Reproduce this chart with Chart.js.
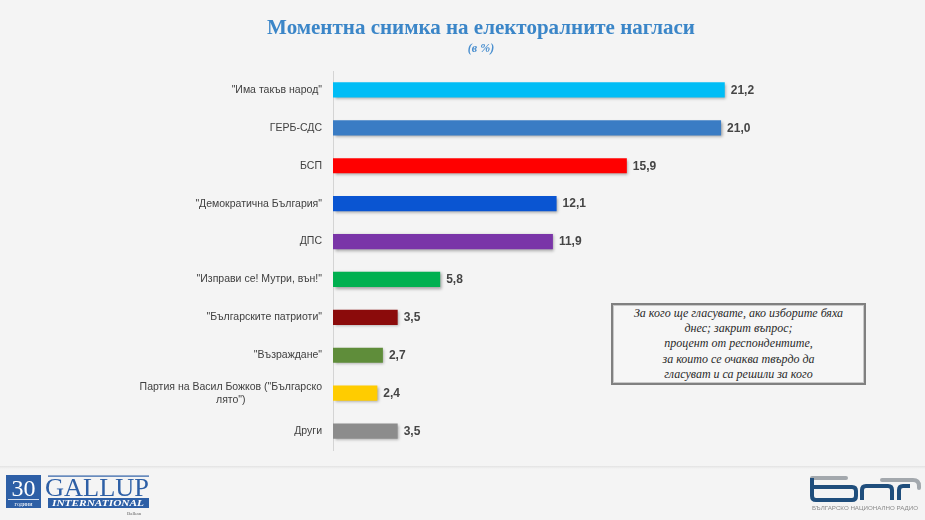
<!DOCTYPE html>
<html><head><meta charset="utf-8">
<script src="https://cdn.jsdelivr.net/npm/chart.js@4.4.0/dist/chart.umd.min.js"></script>
<style>
html,body{margin:0;padding:0;background:#f4f4f4;}
#wrap{position:relative;width:925px;height:520px;overflow:hidden;background:#f4f4f4;}
#c{position:absolute;left:0;top:0;}
.title{position:absolute;left:0;width:962px;text-align:center;top:15px;font:bold 21px "Liberation Serif",serif;color:#3b86c8;white-space:nowrap;}
.sub{position:absolute;left:0;width:962px;text-align:center;top:41px;font:italic bold 12px/14px "Liberation Serif",serif;color:#4a8fcf;}
.note{position:absolute;left:611px;top:303px;width:251px;height:77px;border:2px solid #808080;box-shadow:inset 0 0 0 1px #c8c8c8;background:#f6f6f6;text-align:center;font:italic 12px/15.2px "Liberation Serif",serif;color:#2a2a2a;padding-top:1px;box-sizing:content-box;white-space:nowrap;}
.foot{position:absolute;left:0;top:466px;width:925px;height:3px;background:linear-gradient(#e2e2e2,#ececec,#f4f4f4);}
svg{position:absolute;}
</style>
</head><body>
<div id="wrap">
<canvas id="c" width="925" height="520"></canvas>
<div class="title">Моментна снимка на електоралните нагласи</div>
<div class="sub">(в %)</div>
<div class="note">За кого ще гласувате, ако изборите бяха<br>днес; закрит въпрос;<br>процент от респондентите,<br>за които се очаква твърдо да<br>гласуват и са решили за кого</div>
<div class="foot"></div>
<svg style="left:0;top:465px" width="170" height="55" viewBox="0 0 170 55">
  <rect x="6" y="10" width="35" height="33" fill="#2d5fa6"/>
  <text x="23.5" y="31" font-family="Liberation Serif" font-size="24" fill="#fff" text-anchor="middle">30</text>
  <rect x="8" y="34" width="31" height="0.8" fill="#fff"/>
  <text x="23.5" y="41" font-family="Liberation Serif" font-size="6" fill="#fff" text-anchor="middle">години</text>
  <rect x="48" y="10.5" width="101" height="1.2" fill="#2d5fa6"/>
  <text x="45" y="31" font-family="Liberation Serif" font-size="26" fill="#2d5fa6" textLength="104" lengthAdjust="spacingAndGlyphs">GALLUP</text>
  <rect x="48" y="33" width="101" height="10" fill="#2d5fa6"/>
  <text x="52" y="41" font-family="Liberation Serif" font-style="italic" font-weight="bold" font-size="7.5" fill="#fff" textLength="92" lengthAdjust="spacingAndGlyphs">INTERNATIONAL</text>
  <text x="127" y="49.5" font-family="Liberation Serif" font-size="5" fill="#666">Balkan</text>
</svg>
<svg style="left:800px;top:465px" width="125" height="55" viewBox="0 0 125 55">
  <path d="M12 13 L46 13" stroke="#a3a8ad" stroke-width="4" fill="none" stroke-linecap="round"/>
  <path d="M82 15 L113 15 Q119 15 119 21 L119 23" stroke="#a3a8ad" stroke-width="4" fill="none" stroke-linecap="round"/>
  <path d="M12 13 L12 31 Q12 35 16 35 L52 35 Q56 35 56 31 L56 26 Q56 22 52 22 L12 22" stroke="#1f4e7c" stroke-width="4" fill="none"/>
  <path d="M62 35 L62 25 Q62 21 66 21 L88 21 Q92 21 92 25 L92 35" stroke="#1f4e7c" stroke-width="4" fill="none"/>
  <path d="M99 35 L99 25 Q99 21 103 21 L110 21" stroke="#1f4e7c" stroke-width="4" fill="none"/>
  <text x="12" y="45" font-family="Liberation Sans" font-size="5.5" fill="#8a8a8a" textLength="106" lengthAdjust="spacingAndGlyphs">БЪЛГАРСКО НАЦИОНАЛНО РАДИО</text>
</svg>
</div>
<script>
const categories = [
  '"Има такъв народ"',
  'ГЕРБ-СДС',
  'БСП',
  '"Демократична България"',
  'ДПС',
  '"Изправи се! Мутри, вън!"',
  '"Българските патриоти"',
  '"Възраждане"',
  ['Партия на Васил Божков ("Българско', 'лято")'],
  'Други'
];
const values = [21.2, 21.0, 15.9, 12.1, 11.9, 5.8, 3.5, 2.7, 2.4, 3.5];
const barColors = ['#00bdf6','#3a7cc4','#ff0000','#0a55d2','#7a35a8','#00b050','#8b0b0b','#5f8d3a','#ffcc00','#8c8c8c'];

const shadowPlugin = {
  id: 'shadow',
  beforeDatasetsDraw(chart) {
    const ctx = chart.ctx;
    ctx.save();
    ctx.shadowColor = 'rgba(0,0,0,0.35)';
    ctx.shadowBlur = 3;
    ctx.shadowOffsetX = 1.5;
    ctx.shadowOffsetY = 1.5;
  },
  afterDatasetsDraw(chart) {
    chart.ctx.restore();
  }
};

const labelPlugin = {
  id: 'labels',
  afterDraw(chart) {
    const ctx = chart.ctx;
    const ys = chart.scales.y;
    ctx.save();
    ctx.font = '10.5px "Liberation Sans", Arial, sans-serif';
    ctx.fillStyle = '#404040';
    ctx.textBaseline = 'middle';
    ctx.textAlign = 'center';
    categories.forEach((lab, i) => {
      const lines = Array.isArray(lab) ? lab : [lab];
      const w = Math.max(...lines.map(l => ctx.measureText(l).width));
      const right = ys.right - 11;
      const cx = right - w / 2;
      const py = ys.getPixelForValue(i);
      const lh = 13;
      lines.forEach((l, j) => ctx.fillText(l, cx, py + (j - (lines.length - 1) / 2) * lh));
    });
    const meta = chart.getDatasetMeta(0);
    ctx.font = 'bold 12px "Liberation Sans", Arial, sans-serif';
    ctx.fillStyle = '#454545';
    ctx.textAlign = 'left';
    meta.data.forEach((el, i) => {
      ctx.fillText(values[i].toFixed(1).replace('.', ','), el.x + 6, el.y + 0.5);
    });
    ctx.restore();
  }
};

new Chart(document.getElementById('c'), {
  type: 'bar',
  data: {
    labels: categories,
    datasets: [{
      data: values,
      backgroundColor: barColors,
      borderWidth: 0,
      barPercentage: 0.4,
      categoryPercentage: 1.0
    }]
  },
  options: {
    indexAxis: 'y',
    responsive: false,
    animation: false,
    layout: { padding: { left: 0, top: 71, right: 130, bottom: 70 } },
    plugins: { legend: { display: false }, tooltip: { enabled: false }, title: { display: false } },
    scales: {
      x: { display: false, min: 0, max: 25 },
      y: {
        display: true,
        grid: { display: false },
        border: { display: true, color: '#d4d4d4', width: 1 },
        ticks: { display: false },
        afterFit(scale) { scale.width = 333; }
      }
    }
  },
  plugins: [shadowPlugin, labelPlugin]
});
</script>
</body></html>
